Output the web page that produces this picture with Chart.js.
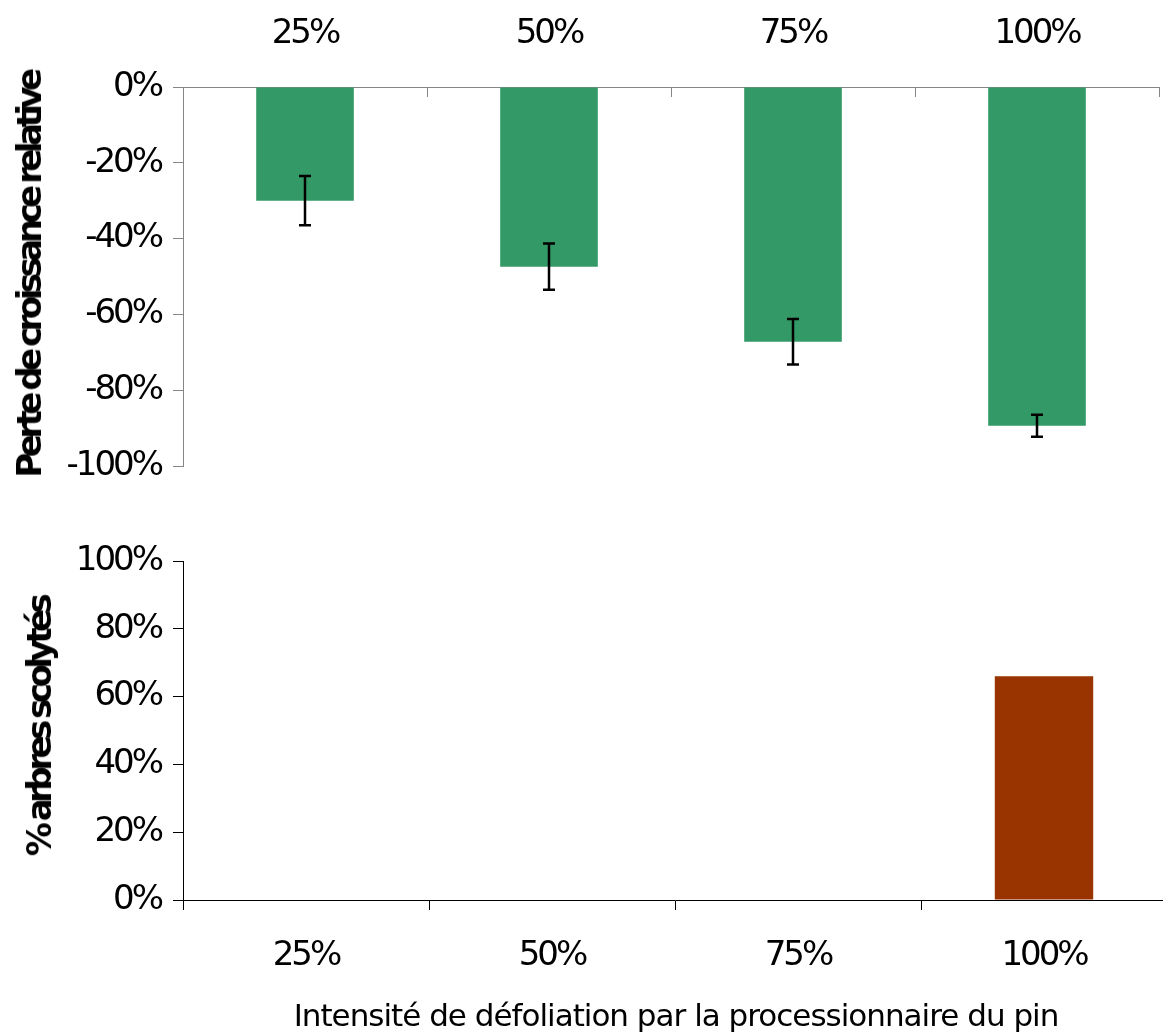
<!DOCTYPE html>
<html>
<head>
<meta charset="utf-8">
<script src="https://cdn.jsdelivr.net/npm/chart.js@4"></script>
<style>
  body { margin: 0; background: #fff; overflow: hidden; }
  #wrap { position: relative; width: 1163px; height: 1035px; font-family: 'DejaVu Sans', sans-serif; color: #000; overflow: hidden; }
  canvas { position: absolute; left: 0; }
  #chart-top { top: 0; }
  #chart-bottom { top: 500px; }
  .ytitle { position: absolute; font-weight: bold; font-size: 34px; letter-spacing: -4.5px; word-spacing: -2px; white-space: nowrap; transform: translate(-50%, -50%) rotate(-90deg); }
  .xtitle { position: absolute; font-size: 31px; letter-spacing: -1px; white-space: nowrap; transform: translate(-50%, -50%); }
</style>
</head>
<body>
<div id="wrap">
  <canvas id="chart-top" width="1163" height="500"></canvas>
  <canvas id="chart-bottom" width="1167" height="535"></canvas>
  <div class="ytitle" style="left:29px; top:275px;">Perte de croissance relative</div>
  <div class="ytitle" style="left:39px; top:727px;">% arbres scolytés</div>
  <div class="xtitle" style="left:676px; top:1015px;">Intensité de défoliation par la processionnaire du pin</div>
</div>
<script>
const intensities = ['25%', '50%', '75%', '100%'];
const growthLoss = [-30, -47.4, -67.2, -89.4];
const growthErr = [6.5, 6.1, 6.0, 2.9];
const barkBeetle = [0, 0, 0, 66];

const green = '#339966';
const brown = '#993300';
const gray = '#868686';

Chart.defaults.font.family = "'DejaVu Sans', sans-serif";
Chart.defaults.font.size = 34;
Chart.defaults.color = '#000';

// the tick labels in the original are set a bit tight
const tightText = {
  id: 'tightText',
  beforeDraw(chart) {
    chart.ctx.letterSpacing = '-3px';
  }
};

// error bars, drawn from the y scale of the chart
const errorBars = {
  id: 'errorBars',
  afterDatasetsDraw(chart, args, opts) {
    const ctx = chart.ctx;
    const y = chart.scales.y;
    const meta = chart.getDatasetMeta(0);
    ctx.save();
    ctx.strokeStyle = '#000';
    ctx.lineWidth = 2.5;
    meta.data.forEach((bar, i) => {
      const v = opts.values[i], e = opts.errors[i];
      const y1 = y.getPixelForValue(v + e);
      const y2 = y.getPixelForValue(v - e);
      ctx.beginPath();
      ctx.moveTo(bar.x, y1); ctx.lineTo(bar.x, y2);
      ctx.moveTo(bar.x - 6, y1); ctx.lineTo(bar.x + 6, y1);
      ctx.moveTo(bar.x - 6, y2); ctx.lineTo(bar.x + 6, y2);
      ctx.stroke();
    });
    ctx.restore();
  }
};

// tick marks of the top x axis point down into the plot
const innerTicks = {
  id: 'innerTicks',
  afterDraw(chart) {
    const ctx = chart.ctx;
    const x = chart.scales.x;
    const n = x.ticks.length;
    const step = x.width / n;
    ctx.save();
    ctx.strokeStyle = gray;
    ctx.lineWidth = 1;
    ctx.beginPath();
    for (let i = 0; i <= n; i++) {
      const px = Math.round(x.left + i * step) + 0.5;
      ctx.moveTo(px, x.bottom);
      ctx.lineTo(px, x.bottom + 10);
    }
    ctx.stroke();
    ctx.restore();
  }
};

new Chart(document.getElementById('chart-top'), {
  type: 'bar',
  data: {
    labels: intensities,
    datasets: [{
      data: growthLoss,
      backgroundColor: green,
      barPercentage: 0.4,
      categoryPercentage: 1.0,
    }],
  },
  options: {
    responsive: false,
    animation: false,
    devicePixelRatio: 1,
    layout: { padding: { left: 0, right: 4, top: 0, bottom: 34 } },
    plugins: {
      legend: { display: false },
      tooltip: { enabled: false },
      errorBars: { values: growthLoss, errors: growthErr },
    },
    scales: {
      x: {
        position: 'top',
        grid: { display: false },
        border: { color: gray, width: 1 },
        ticks: { padding: 24 },
        afterFit(scale) { scale.height = 87; },
      },
      y: {
        min: -100,
        max: 0,
        ticks: { stepSize: 20, padding: 12, callback: (v) => v + '%' },
        grid: { drawOnChartArea: false, color: gray, tickLength: 10 },
        border: { color: gray, width: 1 },
        afterFit(scale) { scale.width = 183; },
      },
    },
  },
  plugins: [tightText, errorBars, innerTicks],
});

new Chart(document.getElementById('chart-bottom'), {
  type: 'bar',
  data: {
    labels: intensities,
    datasets: [{
      data: barkBeetle,
      backgroundColor: brown,
      barPercentage: 0.4,
      categoryPercentage: 1.0,
    }],
  },
  options: {
    responsive: false,
    animation: false,
    devicePixelRatio: 1,
    layout: { padding: { left: 0, right: 0, top: 61, bottom: 0 } },
    plugins: {
      legend: { display: false },
      tooltip: { enabled: false },
    },
    scales: {
      x: {
        grid: { drawOnChartArea: false, color: '#000', tickLength: 10, offset: true },
        border: { color: '#000', width: 1 },
        ticks: { padding: 26 },
        afterFit(scale) { scale.height = 135; },
      },
      y: {
        min: 0,
        max: 100,
        ticks: { stepSize: 20, padding: 12, callback: (v) => v + '%' },
        grid: { drawOnChartArea: false, color: '#000', tickLength: 10 },
        border: { color: '#000', width: 1 },
        afterFit(scale) { scale.width = 183; },
      },
    },
  },
  plugins: [tightText],
});
</script>
</body>
</html>
